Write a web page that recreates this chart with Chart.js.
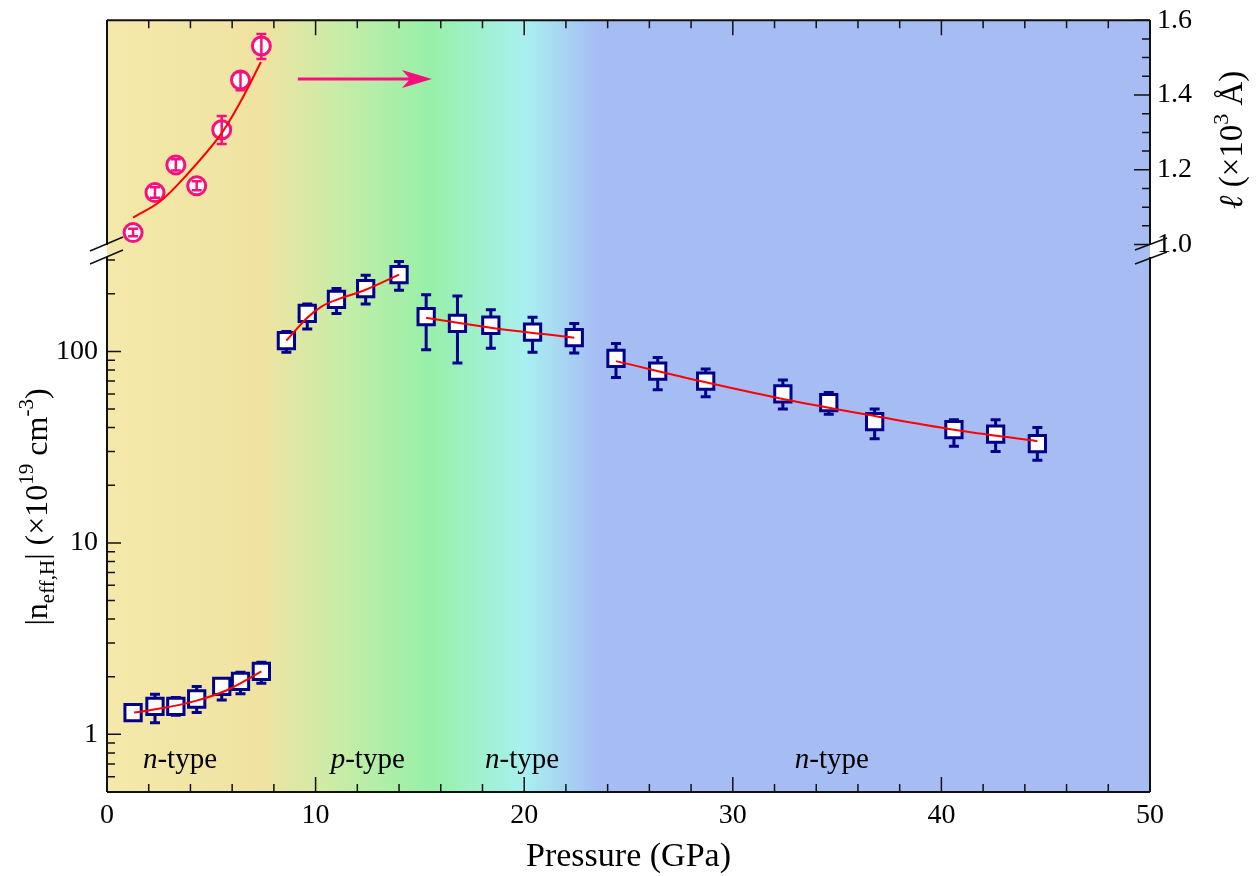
<!DOCTYPE html>
<html>
<head>
<meta charset="utf-8">
<script src="https://cdn.jsdelivr.net/npm/chart.js@4.4.0/dist/chart.umd.min.js"></script>
<style>
  html, body { margin: 0; padding: 0; background: #fff; }
  canvas { display: block; }
</style>
</head>
<body>
<canvas id="chart" width="1257" height="876"></canvas>
<script>
// ---- data ----
const pressureN = [1.25, 2.3, 3.3, 4.3, 5.5, 6.4, 7.4, 8.6, 9.6, 11.0, 12.4, 14.0,
  15.3, 16.8, 18.4, 20.4, 22.4, 24.4, 26.4, 28.7, 32.4, 34.6, 36.8, 40.6, 42.6, 44.6];
const nEff = [1.30, 1.40, 1.40, 1.53, 1.78, 1.89, 2.13, 114, 158, 187, 213, 252,
  152, 140, 137, 126, 118, 92, 79, 70, 60, 54, 43, 39, 37, 33];
const nEffLo = [1.25, 1.15, 1.26, 1.30, 1.51, 1.63, 1.85, 99, 131, 158, 177, 209,
  102, 87, 104, 99, 98, 73, 63, 58, 50, 47, 35, 32, 30, 27];
const nEffHi = [1.35, 1.62, 1.56, 1.78, 1.94, 2.11, 2.38, 127, 177, 213, 250, 295,
  198, 195, 165, 151, 140, 110, 93, 81, 71, 61, 50, 44, 44, 40];

const pressureL = [1.25, 2.3, 3.3, 4.3, 5.5, 6.4, 7.4];
const meanFreePath = [1.032, 1.139, 1.213, 1.157, 1.307, 1.44, 1.531];
const meanFreePathLo = [1.022, 1.125, 1.198, 1.145, 1.269, 1.413, 1.496];
const meanFreePathHi = [1.042, 1.153, 1.228, 1.169, 1.344, 1.461, 1.563];

// fit curves (red)
const fitLX = [1.25, 2.54, 3.82, 5.42, 6.38, 7.38];
const fitLY = [1.072, 1.115, 1.186, 1.292, 1.38, 1.488];
const fitN1X = [1.3, 2.8, 4.3, 5.8, 7.4];
const fitN1Y = [1.30, 1.38, 1.50, 1.71, 2.13];
const fitPX = [8.6, 9.6, 10.3, 11.0, 12.4, 14.0];
const fitPY = [114, 150, 172, 186, 210, 252];
const fitN2X = [15.3, 18.4, 22.4];
const fitN2Y = [150, 133, 118];
const fitN3X = [24.4, 28.7, 32.4, 36.8, 40.6, 44.6];
const fitN3Y = [89, 69, 56.5, 46, 39, 34];

const xTicks = [0, 10, 20, 30, 40, 50];
const leftTicks = [1, 10, 100];
const rightTicks = [1.0, 1.2, 1.4, 1.6];

const regionNames = ['n', 'p', 'n', 'n'];
const regionX = [3.5, 12.5, 19.9, 34.75];
const regionY = 0.665;

const arrowX = [9.15, 15.58];
const arrowY = 1.443;

// ---- styling ----
const FONT = "'Liberation Serif', 'Times New Roman', serif";
const NAVY = '#00008b';
const PINK = '#f8107f';
const bgStops = [0, 7.5, 11, 15.5, 20, 23.5, 50];
const bgColors = ['#f4e9aa', '#f0e3a2', '#c9eca6', '#97f0a8', '#a8f0ef', '#a6bdf4', '#a6bcf3'];

function pts(xs, ys) {
  return xs.map((x, i) => ({ x: x, y: ys[i] }));
}

function fitLine(xs, ys, axis) {
  return {
    data: pts(xs, ys), yAxisID: axis, showLine: true,
    borderColor: '#ff0000', borderWidth: 2, pointRadius: 0,
    tension: 0.35, fill: false, order: 0
  };
}

// gradient behind the plot area
const background = {
  id: 'background',
  beforeDatasetsDraw(chart) {
    const { ctx, chartArea: a, scales } = chart;
    const g = ctx.createLinearGradient(a.left, 0, a.right, 0);
    bgStops.forEach((p, i) => {
      g.addColorStop((scales.x.getPixelForValue(p) - a.left) / (a.right - a.left), bgColors[i]);
    });
    ctx.save();
    ctx.fillStyle = g;
    ctx.fillRect(a.left, a.top, a.right - a.left, a.bottom - a.top);
    ctx.restore();
  }
};

// error bars: blue behind the squares, pink on top of the circles
function drawErrors(chart, ds) {
  const ctx = chart.ctx;
  const xs = chart.scales.x, ys = chart.scales[ds.yAxisID];
  ctx.save();
  ctx.strokeStyle = ds.borderColor;
  ctx.lineWidth = ds.errWidth;
  ds.data.forEach((p, i) => {
    const x = xs.getPixelForValue(p.x);
    const y1 = ys.getPixelForValue(ds.errLo[i]);
    const y2 = ys.getPixelForValue(ds.errHi[i]);
    const c = ds.capHalf;
    ctx.beginPath();
    ctx.moveTo(x, y1); ctx.lineTo(x, y2);
    ctx.moveTo(x - c, y1); ctx.lineTo(x + c, y1);
    ctx.moveTo(x - c, y2); ctx.lineTo(x + c, y2);
    ctx.stroke();
  });
  ctx.restore();
}
const errorBars = {
  id: 'errorBars',
  beforeDatasetDraw(chart, args) {
    const ds = chart.data.datasets[args.index];
    if (ds.errLo && ds.errBehind) drawErrors(chart, ds);
  },
  afterDatasetDraw(chart, args) {
    const ds = chart.data.datasets[args.index];
    if (ds.errLo && !ds.errBehind) drawErrors(chart, ds);
  }
};

function richText(ctx, parts, cx, cy, rot) {
  ctx.save();
  ctx.translate(cx, cy);
  ctx.rotate(rot);
  ctx.textBaseline = 'alphabetic';
  ctx.textAlign = 'left';
  let total = 0;
  parts.forEach(p => {
    ctx.font = (p.italic ? 'italic ' : '') + p.size + 'px ' + FONT;
    p.w = ctx.measureText(p.t).width;
    total += p.w;
  });
  let x = -total / 2;
  parts.forEach(p => {
    ctx.font = (p.italic ? 'italic ' : '') + p.size + 'px ' + FONT;
    ctx.fillText(p.t, x, p.dy || 0);
    x += p.w;
  });
  ctx.restore();
}

// frame, inward ticks, breaks, titles and annotations
const decorations = {
  id: 'decorations',
  afterDraw(chart) {
    const { ctx, chartArea: a, scales } = chart;
    const xS = scales.x, yS = scales.y, rS = scales.yR;
    const gapTop = 245, gapBot = 257;
    ctx.save();
    ctx.strokeStyle = '#111';
    ctx.fillStyle = '#000';

    // frame
    ctx.lineWidth = 2;
    ctx.beginPath();
    ctx.moveTo(a.left, a.top); ctx.lineTo(a.right, a.top);
    ctx.moveTo(a.left, a.bottom); ctx.lineTo(a.right, a.bottom);
    ctx.moveTo(a.left, a.top); ctx.lineTo(a.left, gapTop);
    ctx.moveTo(a.left, gapBot); ctx.lineTo(a.left, a.bottom);
    ctx.moveTo(a.right, a.top); ctx.lineTo(a.right, gapTop);
    ctx.moveTo(a.right, gapBot); ctx.lineTo(a.right, a.bottom);
    ctx.stroke();

    // axis breaks
    ctx.lineWidth = 1.5;
    ctx.beginPath();
    ctx.moveTo(a.left - 17, 251); ctx.lineTo(a.left + 16, 237);
    ctx.moveTo(a.left - 17, 264); ctx.lineTo(a.left + 16, 250);
    ctx.moveTo(a.right - 15, 250); ctx.lineTo(a.right + 17, 238);
    ctx.moveTo(a.right - 15, 264); ctx.lineTo(a.right + 17, 252);
    ctx.stroke();

    // x ticks (bottom and top)
    ctx.lineWidth = 1.5;
    ctx.beginPath();
    for (let v = 0; v <= 50; v += 2) {
      const x = xS.getPixelForValue(v);
      const len = v % 10 === 0 ? 15 : 8;
      ctx.moveTo(x, a.bottom); ctx.lineTo(x, a.bottom - len);
      ctx.moveTo(x, a.top); ctx.lineTo(x, a.top + len);
    }
    // left log ticks
    [0.1, 1, 10, 100].forEach(d => {
      for (let k = 1; k <= 9; k++) {
        const v = k * d;
        if (v < 0.5 || v > 300) continue;
        const y = yS.getPixelForValue(v);
        const len = k === 1 ? 14 : 8;
        ctx.moveTo(a.left, y); ctx.lineTo(a.left + len, y);
      }
    });
    // right linear ticks
    for (let k = 20; k <= 32; k++) {
      const y = rS.getPixelForValue(k * 0.05);
      const len = k % 4 === 0 ? 16 : 8;
      ctx.moveTo(a.right, y); ctx.lineTo(a.right - len, y);
    }
    ctx.stroke();

    // arrow pointing to the right axis
    const ax1 = xS.getPixelForValue(arrowX[0]);
    const ax2 = xS.getPixelForValue(arrowX[1]);
    const ay = rS.getPixelForValue(arrowY);
    ctx.strokeStyle = PINK;
    ctx.fillStyle = PINK;
    ctx.lineWidth = 3;
    ctx.beginPath();
    ctx.moveTo(ax1, ay); ctx.lineTo(ax2 - 10, ay);
    ctx.stroke();
    ctx.beginPath();
    ctx.moveTo(ax2, ay);
    ctx.lineTo(ax2 - 30, ay - 9);
    ctx.lineTo(ax2 - 22, ay);
    ctx.lineTo(ax2 - 30, ay + 9);
    ctx.closePath();
    ctx.fill();

    // region labels
    ctx.fillStyle = '#000';
    ctx.textBaseline = 'alphabetic';
    const yl = yS.getPixelForValue(regionY);
    regionNames.forEach((n, i) => {
      ctx.font = 'italic 29px ' + FONT;
      const w1 = ctx.measureText(n).width;
      ctx.font = '29px ' + FONT;
      const w2 = ctx.measureText('-type').width;
      const x0 = xS.getPixelForValue(regionX[i]) - (w1 + w2) / 2;
      ctx.font = 'italic 29px ' + FONT;
      ctx.fillText(n, x0, yl);
      ctx.font = '29px ' + FONT;
      ctx.fillText('-type', x0 + w1, yl);
    });

    // axis titles
    richText(ctx, [{ t: 'Pressure (GPa)', size: 34 }], (a.left + a.right) / 2, 866, 0);
    richText(ctx, [
      { t: '|n', size: 32 },
      { t: 'eff,H', size: 21, dy: 7 },
      { t: '| (\u00d710', size: 32 },
      { t: '19', size: 21, dy: -14 },
      { t: ' cm', size: 32 },
      { t: '-3', size: 21, dy: -14 },
      { t: ')', size: 32 }
    ], 47, 507, -Math.PI / 2);
    richText(ctx, [
      { t: '\u2113', size: 33, italic: true },
      { t: ' (\u00d710', size: 33 },
      { t: '3', size: 22, dy: -14 },
      { t: ' \u00c5)', size: 33 }
    ], 1242, 140, -Math.PI / 2);
    ctx.restore();
  }
};

const xTickFont = { family: FONT, size: 28 };
const yTickFont = { family: FONT, size: 28, lineHeight: 0.8 };

new Chart(document.getElementById('chart'), {
  type: 'scatter',
  data: {
    datasets: [
      fitLine(fitLX, fitLY, 'yR'),
      fitLine(fitN1X, fitN1Y, 'y'),
      fitLine(fitPX, fitPY, 'y'),
      fitLine(fitN2X, fitN2Y, 'y'),
      fitLine(fitN3X, fitN3Y, 'y'),
      {
        data: pts(pressureN, nEff), yAxisID: 'y',
        pointStyle: 'rect', pointRadius: 11.5, pointHoverRadius: 11.5,
        borderColor: NAVY, backgroundColor: '#ffffff', borderWidth: 3,
        errLo: nEffLo, errHi: nEffHi, errBehind: true, errWidth: 3, capHalf: 5,
        order: 1
      },
      {
        data: pts(pressureL, meanFreePath), yAxisID: 'yR',
        pointStyle: 'circle', pointRadius: 9, pointHoverRadius: 9,
        borderColor: PINK, backgroundColor: '#ffffff', borderWidth: 3,
        errLo: meanFreePathLo, errHi: meanFreePathHi, errBehind: false, errWidth: 2.5, capHalf: 5,
        order: 1
      }
    ]
  },
  options: {
    responsive: false,
    animation: false,
    devicePixelRatio: 1,
    clip: false,
    layout: { padding: { top: 18, left: 0, right: 0, bottom: 0 } },
    plugins: { legend: { display: false }, tooltip: { enabled: false } },
    scales: {
      x: {
        type: 'linear', position: 'bottom', min: 0, max: 50,
        afterBuildTicks: s => { s.ticks = xTicks.map(v => ({ value: v })); },
        afterFit: s => { s.height = 84; },
        ticks: { font: xTickFont, color: '#000', padding: 7, maxRotation: 0, callback: v => String(v) },
        grid: { display: false, drawTicks: false },
        border: { display: false }
      },
      y: {
        type: 'logarithmic', position: 'left', min: 0.5, max: 5370,
        afterBuildTicks: s => { s.ticks = leftTicks.map(v => ({ value: v })); },
        afterFit: s => { s.width = 107; },
        ticks: { font: yTickFont, color: '#000', padding: 9, callback: v => String(v) },
        grid: { display: false, drawTicks: false },
        border: { display: false }
      },
      yR: {
        type: 'linear', position: 'right', min: -0.464, max: 1.6,
        afterBuildTicks: s => { s.ticks = rightTicks.map(v => ({ value: v })); },
        afterFit: s => { s.width = 107; },
        ticks: { font: yTickFont, color: '#000', padding: 7, callback: v => Number(v).toFixed(1) },
        grid: { display: false, drawTicks: false },
        border: { display: false }
      }
    }
  },
  plugins: [background, errorBars, decorations]
});
</script>
</body>
</html>
